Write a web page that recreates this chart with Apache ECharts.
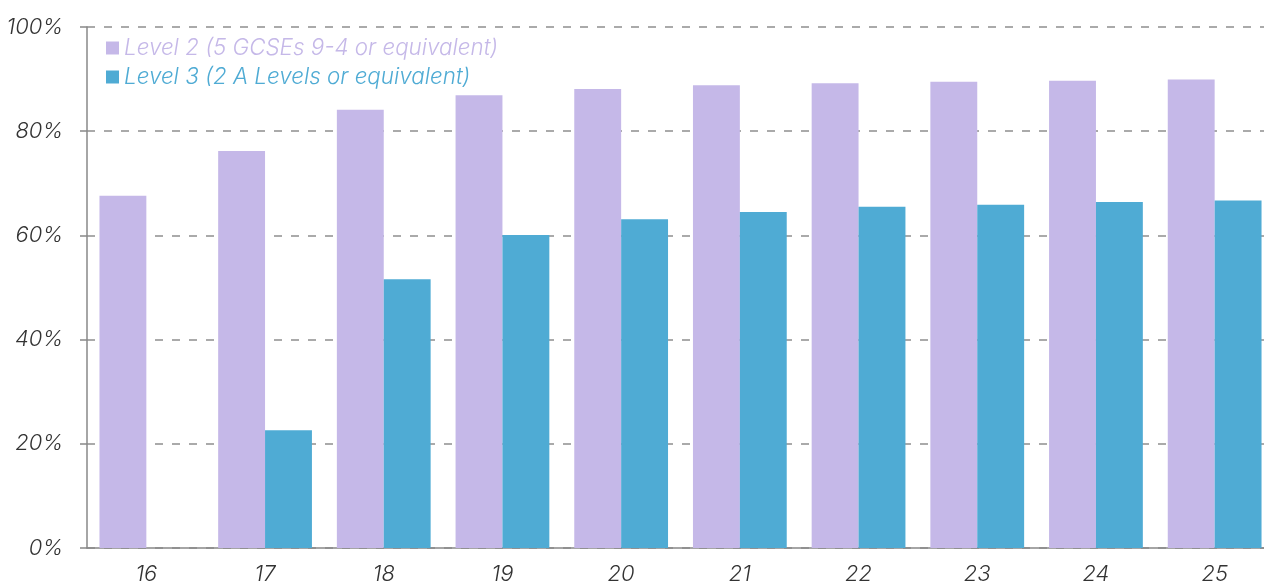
<!DOCTYPE html>
<html>
<head>
    <meta charset="utf-8">
    <title>ECharts</title>
    <script src="https://cdn.jsdelivr.net/npm/echarts@6/dist/echarts.min.js"></script>
    <style>
        html, body { margin: 0; padding: 0; background: #fff; }
    </style>
</head>
<body>
    <div id="main" style="width: 1264px;height:585px;"></div>
    <script type="text/javascript">
        var categories = ['16', '17', '18', '19', '20', '21', '22', '23', '24', '25'];
        var level2 = [67.6, 76.2, 84.1, 86.9, 88.1, 88.8, 89.2, 89.5, 89.7, 89.9];
        var level3 = [null, 22.6, 51.6, 60.1, 63.1, 64.5, 65.5, 65.9, 66.4, 66.7];
        var seriesNames = ['Level 2 (5 GCSEs 9-4 or equivalent)', 'Level 3 (2 A Levels or equivalent)'];

        var chart = echarts.init(document.getElementById('main'));
        var fontFamily = 'Inter, "Noto Sans", sans-serif';

        chart.setOption({
            animation: false,
            grid: {
                left: 87,
                top: 27,
                width: 1187,
                bottom: 37,
                outerBoundsMode: 'none',
                containLabel: false
            },
            legend: {
                orient: 'vertical',
                left: 101,
                top: 32,
                itemWidth: 13,
                itemHeight: 13,
                itemGap: 7,
                icon: 'rect',
                data: [
                    { name: seriesNames[0], textStyle: { color: '#C5B8E8' } },
                    { name: seriesNames[1], textStyle: { color: '#4FABD4' } }
                ],
                textStyle: {
                    fontFamily: fontFamily,
                    fontStyle: 'italic',
                    fontWeight: 300,
                    fontSize: 22.4
                }
            },
            xAxis: {
                type: 'category',
                data: categories,
                axisLine: { show: true, lineStyle: { color: '#888', width: 1.5 } },
                axisTick: { show: false },
                axisLabel: {
                    margin: 15,
                    color: '#333',
                    fontFamily: fontFamily,
                    fontStyle: 'italic',
                    fontWeight: 300,
                    fontSize: 22
                }
            },
            yAxis: {
                type: 'value',
                min: 0,
                max: 100,
                interval: 20,
                axisLine: { show: true, lineStyle: { color: '#888', width: 1.5 } },
                axisTick: { show: true, length: 7, lineStyle: { color: '#888', width: 1.5 } },
                axisLabel: {
                    margin: 24,
                    color: '#333',
                    fontFamily: fontFamily,
                    fontStyle: 'italic',
                    fontWeight: 300,
                    fontSize: 22,
                    formatter: '{value}%'
                },
                splitLine: {
                    show: true,
                    lineStyle: { color: '#aaa', width: 2, type: [8, 9] }
                }
            },
            series: [{
                name: seriesNames[0],
                type: 'bar',
                data: level2,
                barGap: '0%',
                barCategoryGap: '21%',
                itemStyle: { color: '#C5B8E8' }
            }, {
                name: seriesNames[1],
                type: 'bar',
                data: level3,
                itemStyle: { color: '#4FABD4' }
            }]
        });
    </script>
</body>
</html>
